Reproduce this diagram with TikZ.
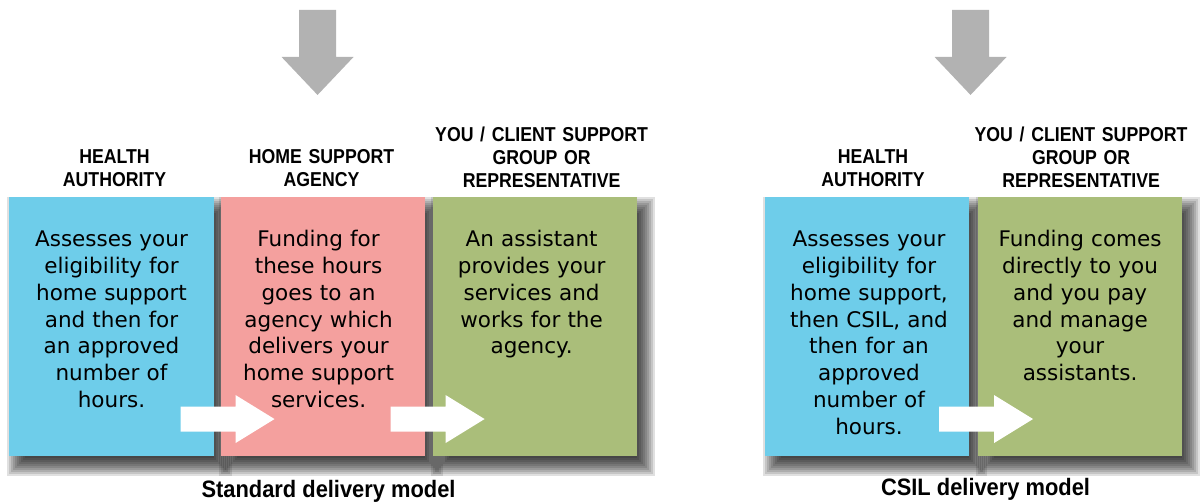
\documentclass[tikz,border=0pt]{standalone}
\usepackage{fontspec}
\setmainfont{DejaVu Sans}
\newfontfamily\headfont[FakeStretch=0.88]{Liberation Sans}
\newfontfamily\captionfont[FakeStretch=0.92]{Liberation Sans}
\usetikzlibrary{positioning,calc,backgrounds}
\definecolor{hablue}{RGB}{110,205,234}
\definecolor{agencypink}{RGB}{244,160,158}
\definecolor{clientgreen}{RGB}{170,190,122}
\definecolor{arrowgrey}{RGB}{178,178,178}
\newcommand\boxshade[1]{%
  \foreach \e in {0,2,...,18}
    \fill[black,opacity=.12] ([shift={({16-\e},{18-\e})}]#1.north west) rectangle ([shift={(\e,{\e+2})}]#1.south east);}
\tikzset{
  flowarrow/.pic={\fill[white] (0,-12.5) -- (55,-12.5) -- (55,-24) -- (94,0) -- (55,24) -- (55,12.5) -- (0,12.5) -- cycle;},
  droparrow/.pic={\fill[arrowgrey] (-18.5,0) -- (18.5,0) -- (18.5,47) -- (36,47) -- (0,85) -- (-36,47) -- (-18.5,47) -- cycle;}
}
\begin{document}
\begin{tikzpicture}[x=0.025cm,y=-0.025cm,
    panel/.style={minimum width=5.1cm,minimum height=6.475cm,inner sep=0,outer sep=0},
    body/.style={text width=5cm,align=center,anchor=base,inner sep=0,font=\fontsize{15.3}{19}\selectfont},
    head/.style={text width=6cm,align=center,anchor=south,inner sep=0,font=\headfont\bfseries\fontsize{14.3}{16.4}\selectfont},
    caption/.style={anchor=base,inner sep=0,font=\captionfont\bfseries\fontsize{16.9}{20}\selectfont}]
    \useasboundingbox (0,0) rectangle (1200,502);
    % standard delivery model
    \node[panel,fill=hablue] (health) at (111.5,326.5) {};
    \node[panel,fill=agencypink,right=0.175cm of health] (agency) {};
    \node[panel,fill=clientgreen,right=0.2cm of agency] (client) {};
    % CSIL delivery model
    \node[panel,fill=hablue] (csilhealth) at (867,326.5) {};
    \node[panel,fill=clientgreen,right=0.225cm of csilhealth] (csilclient) {};
    \begin{scope}[on background layer]
        \foreach \b in {health,agency,client,csilhealth,csilclient}{\boxshade{\b}}
    \end{scope}
    \node[head] (healthhead) at ($(health.north)+(3,-10)$) {HEALTH\\AUTHORITY};
    \node[head] (agencyhead) at ($(agency.north)+(-1,-10)$) {HOME SUPPORT\\AGENCY};
    \node[head] (clienthead) at ($(client.north)+(7,-9)$) {YOU / CLIENT SUPPORT\\GROUP OR\\REPRESENTATIVE};
    \node[head] (csilhealthhead) at ($(csilhealth.north)+(6,-10)$) {HEALTH\\AUTHORITY};
    \node[head] (csilclienthead) at ($(csilclient.north)+(1,-9)$) {YOU / CLIENT SUPPORT\\GROUP OR\\REPRESENTATIVE};
    \node[body] (healthtext) at ($(health.north)+(0,50)$) {Assesses your\\eligibility for\\home support\\and then for\\an approved\\number of\\hours.};
    \node[body] (agencytext) at ($(agency.north)+(-4,50)$) {Funding for\\these hours\\goes to an\\agency which\\delivers your\\home support\\services.};
    \node[body] (clienttext) at ($(client.north)+(-3,50)$) {An assistant\\provides your\\services and\\works for the\\agency.};
    \node[body] (csilhealthtext) at ($(csilhealth.north)+(2,50)$) {Assesses your\\eligibility for\\home support,\\then CSIL, and\\then for an\\approved\\number of\\hours.};
    \node[body] (csilclienttext) at ($(csilclient.north)+(0,50)$) {Funding comes\\directly to you\\and you pay\\and manage\\your\\assistants.};
    \pic at ($(health.south east)+(-33,-37)$) {flowarrow};
    \pic at ($(agency.south east)+(-34,-37)$) {flowarrow};
    \pic at ($(csilhealth.south east)+(-30,-37)$) {flowarrow};
    \pic at ($(agency.north)+(-5,-187)$) {droparrow};
    \pic at ($(csilhealth.north east)!.5!(csilclient.north west)+(-3,-187)$) {droparrow};
    \node[caption] (stdcaption) at ($(agency.south)+(6,41)$) {Standard delivery model};
    \node[caption] (csilcaption) at ($(csilhealth.south east)!.5!(csilclient.south west)+(12,39)$) {CSIL delivery model};
\end{tikzpicture}
\end{document}
